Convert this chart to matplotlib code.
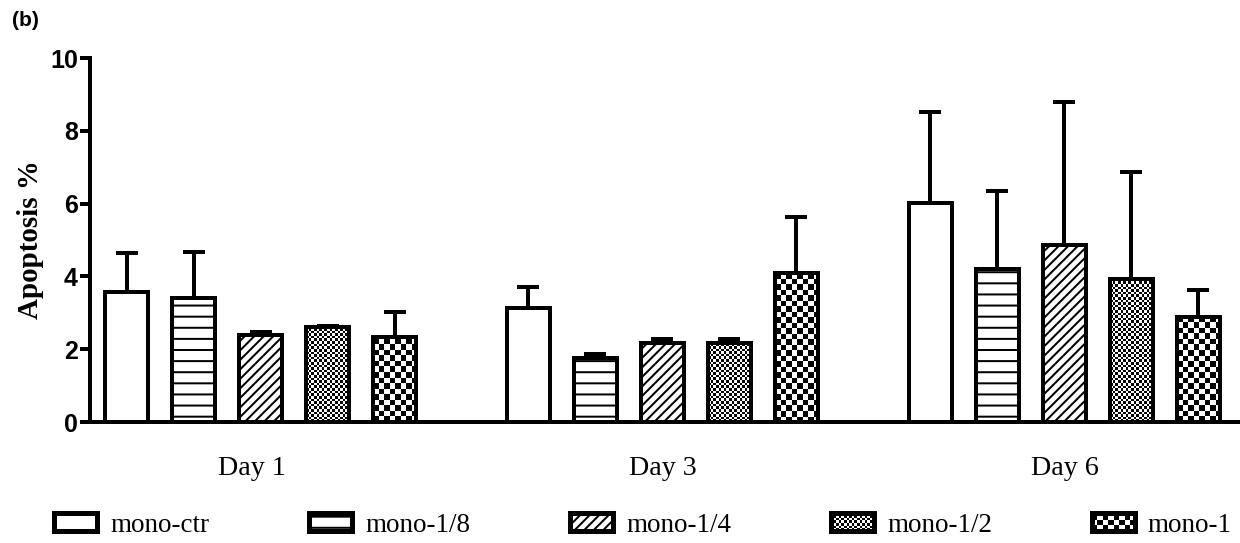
import numpy as np
import matplotlib
matplotlib.use("Agg")
import matplotlib.pyplot as plt
from matplotlib.patches import Rectangle, Patch
from matplotlib.legend_handler import HandlerBase
from matplotlib.transforms import ScaledTranslation

DPI = 200
W_PX, H_PX = 1240, 543


def px(v):
    """Convert a length in output pixels to points."""
    return v * 72.0 / DPI


# ---- data -------------------------------------------------------------
days = ["Day 1", "Day 3", "Day 6"]
series = ["mono-ctr", "mono-1/8", "mono-1/4", "mono-1/2", "mono-1"]

mono_ctr = [3.57, 3.14, 6.02]
mono_ctr_sd = [1.06, 0.56, 2.50]
mono_1_8 = [3.41, 1.77, 4.19]
mono_1_8_sd = [1.26, 0.11, 2.15]
mono_1_4 = [2.40, 2.18, 4.86]
mono_1_4_sd = [0.06, 0.09, 3.94]
mono_1_2 = [2.60, 2.18, 3.92]
mono_1_2_sd = [0.04, 0.09, 2.94]
mono_1 = [2.34, 4.09, 2.89]
mono_1_sd = [0.68, 1.54, 0.75]

means = [mono_ctr, mono_1_8, mono_1_4, mono_1_2, mono_1]
sds = [mono_ctr_sd, mono_1_8_sd, mono_1_4_sd, mono_1_2_sd, mono_1_sd]

y_ticks = [0, 2, 4, 6, 8, 10]

# ---- styling ----------------------------------------------------------
plt.rcParams["hatch.linewidth"] = px(2)
LW = px(4)
SERIF = "Liberation Serif"
SANS = "Liberation Sans"

# fill style per series: (hatch, checker cell size in px or None)
styles = [("", None), ("---", None), ("///////", None), ("", 2.6), ("", 5.5)]

fig = plt.figure(figsize=(W_PX / DPI, H_PX / DPI), dpi=DPI)
ax = fig.add_axes([90 / W_PX, (H_PX - 422) / H_PX, 1 - 90 / W_PX, (422 - 58) / H_PX])

n_series = len(series)
group_step = n_series + 1
bar_w = 0.65
ax.set_xlim(-0.545, 16.62)
ax.set_ylim(0, 10)

# data->pixel scale, used to size checker textures in pixels
p0 = ax.transData.transform((0, 0))
p1 = ax.transData.transform((1, 1))
ppx, ppy = p1[0] - p0[0], p1[1] - p0[1]

for i, (name, vals, err) in enumerate(zip(series, means, sds)):
    xs = np.arange(len(days)) * group_step + i
    hatch, cell = styles[i]
    ax.errorbar(xs, vals, yerr=[np.zeros(len(vals)), err], fmt="none",
                ecolor="black", elinewidth=LW, capsize=px(11), capthick=LW,
                zorder=1)
    bars = ax.bar(xs, vals, width=bar_w, facecolor="white", edgecolor="black",
                  linewidth=LW, hatch=hatch, zorder=2)
    if cell is not None:
        sx, sy = cell / ppx, cell / ppy
        for b in bars:
            bx, bw, bh = b.get_x(), b.get_width(), b.get_height()
            nc = int(np.ceil(bw / sx)) + 1
            nr = int(np.ceil(bh / sy)) + 1
            jj, ii = np.meshgrid(np.arange(nc), np.arange(nr))
            tex = ((ii + jj) % 2).astype(float)
            im = ax.imshow(tex, cmap="gray", vmin=0, vmax=1, origin="lower",
                           extent=(bx, bx + nc * sx, 0, nr * sy),
                           interpolation="nearest", aspect="auto", zorder=2.5)
            im.set_clip_path(b)
    # outlines on top of any texture
    ax.bar(xs, vals, width=bar_w, facecolor="none", edgecolor="black",
           linewidth=LW, zorder=3)

ax.set_xlim(-0.545, 16.62)
ax.set_ylim(0, 10)

# ---- axes -------------------------------------------------------------
for s in ["top", "right"]:
    ax.spines[s].set_visible(False)
for s in ["left", "bottom"]:
    ax.spines[s].set_linewidth(LW)
ax.spines["bottom"].set_zorder(4)

ax.set_yticks(y_ticks)
ax.set_yticklabels([str(t) for t in y_ticks], fontfamily=SANS,
                   fontweight="bold", fontsize=px(25))
ax.tick_params(axis="y", length=px(10), width=LW, pad=px(2))

centers = np.arange(len(days)) * group_step + (n_series - 1) / 2
ax.set_xticks(centers)
ax.set_xticklabels(days, fontfamily=SERIF, fontsize=px(28))
ax.tick_params(axis="x", length=0, pad=px(34))
# the first day label sits slightly left of its group
first = ax.get_xticklabels()[0]
first.set_transform(first.get_transform()
                    + ScaledTranslation(-9 / DPI, 0, fig.dpi_scale_trans))

ax.set_ylabel("Apoptosis %", fontfamily=SERIF, fontweight="bold",
              fontsize=px(29))
ax.yaxis.set_label_coords(-46 / 1150, 0.5)

fig.text(12 / W_PX, 1 - 21 / H_PX, "(b)", fontfamily=SANS, fontweight="bold",
         fontsize=px(21), va="center", ha="left")


# ---- legend -----------------------------------------------------------
class CheckerHandler(HandlerBase):
    def __init__(self, cell):
        super().__init__()
        self.cell = cell

    def create_artists(self, legend, orig_handle, xdescent, ydescent,
                       width, height, fontsize, trans):
        x0, y0 = -xdescent, -ydescent
        arts = [Rectangle((x0, y0), width, height, facecolor="white",
                          edgecolor="none", transform=trans)]
        c = px(self.cell)
        nx = int(np.ceil(width / c))
        ny = int(np.ceil(height / c))
        for a in range(nx):
            for b in range(ny):
                if (a + b) % 2 == 0:
                    cw = min(c, width - a * c)
                    ch = min(c, height - b * c)
                    arts.append(Rectangle((x0 + a * c, y0 + b * c), cw, ch,
                                          facecolor="black", edgecolor="none",
                                          transform=trans))
        arts.append(Rectangle((x0, y0), width, height, facecolor="none",
                              edgecolor="black", linewidth=px(5),
                              transform=trans))
        return arts


handles = []
handler_map = {}
for i, name in enumerate(series):
    hatch, cell = styles[i]
    h = Patch(facecolor="white", edgecolor="black", linewidth=px(5),
              hatch=hatch, label=name)
    handles.append(h)
    if cell is not None:
        handler_map[h] = CheckerHandler(cell)

LEG_FS = 27  # px
fig.legend(handles=handles, labels=series, handler_map=handler_map,
           loc="center", bbox_to_anchor=(643 / W_PX, 18 / H_PX), ncol=5,
           frameon=False, prop={"family": SERIF, "size": px(LEG_FS)},
           handlelength=43 / LEG_FS, handleheight=17 / LEG_FS,
           handletextpad=13 / LEG_FS, columnspacing=100 / LEG_FS)

fig.savefig("out.png", dpi=DPI)
